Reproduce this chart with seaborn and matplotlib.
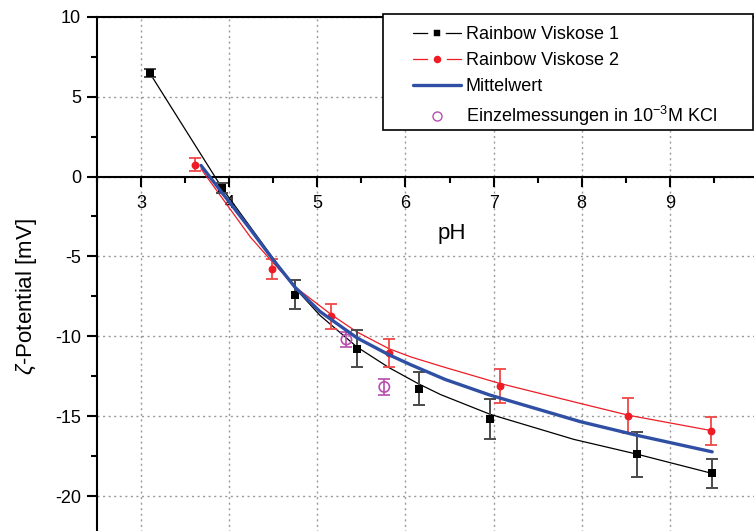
import matplotlib
matplotlib.use("Agg")
import matplotlib.pyplot as plt
import seaborn as sns
from matplotlib.lines import Line2D
from matplotlib.patches import Rectangle
from matplotlib.ticker import MultipleLocator

# ---- measured points (pH, zeta potential in mV, error) ----
ph_v1 = [3.10, 3.92, 4.75, 5.45, 6.15, 6.96, 8.63, 9.48]
zeta_v1 = [6.46, -0.73, -7.40, -10.77, -13.27, -15.17, -17.38, -18.58]
err_v1 = [0.26, 0.30, 0.90, 1.15, 1.05, 1.25, 1.40, 0.90]

ph_v2 = [3.61, 4.49, 5.16, 5.81, 7.07, 8.53, 9.47]
zeta_v2 = [0.75, -5.79, -8.75, -11.04, -13.10, -14.96, -15.90]
err_v2 = [0.42, 0.60, 0.80, 0.90, 1.07, 1.08, 0.88]

ph_single = [5.33, 5.76]
zeta_single = [-10.20, -13.17]
err_single = [0.50, 0.50]

# ---- smoothed curves ----
curve_ph_v1 = [3.10, 3.92, 4.43, 4.75, 5.03, 5.45, 5.81, 6.15, 6.40, 6.96, 7.91, 8.63, 9.48]
curve_zeta_v1 = [6.46, -0.73, -4.60, -7.00, -8.69, -10.67, -11.95, -12.98, -13.65, -14.88, -16.45, -17.38, -18.58]

curve_ph_v2 = [3.68, 4.24, 4.49, 4.75, 5.17, 5.45, 5.81, 6.06, 6.45, 7.07, 7.99, 8.53, 9.47]
curve_zeta_v2 = [0.48, -3.79, -5.35, -6.92, -8.69, -9.73, -10.77, -11.29, -11.95, -12.95, -14.21, -14.94, -15.90]

curve_ph_mean = [3.68, 4.24, 4.49, 4.75, 5.03, 5.45, 5.81, 6.06, 6.45, 6.96, 7.99, 8.63, 9.48]
curve_zeta_mean = [0.69, -3.30, -5.15, -6.95, -8.45, -10.10, -11.15, -11.78, -12.70, -13.68, -15.35, -16.20, -17.23]

x_ticks = [3, 4, 5, 6, 7, 8, 9]
y_ticks = [-20, -15, -10, -5, 0, 5, 10]

labels = ["Rainbow Viskose 1", "Rainbow Viskose 2", "Mittelwert",
          r"Einzelmessungen in 10$^{\mathrm{-3}}$M KCl"]

C_BLACK = "black"
C_RED = "#EE1C25"
C_BLUE = "#2E4FA3"
C_MAG = "#B84DB0"

sns.set_theme(style="white")
plt.rcParams["font.family"] = ["Liberation Sans", "DejaVu Sans"]
plt.rcParams["mathtext.fontset"] = "custom"
plt.rcParams["mathtext.rm"] = "Liberation Sans"
plt.rcParams["mathtext.it"] = "Liberation Sans:italic"
plt.rcParams["axes.unicode_minus"] = False
plt.rcParams["text.color"] = "black"
plt.rcParams["axes.labelcolor"] = "black"

fig = plt.figure(figsize=(7.54, 5.31), dpi=100)
ax = fig.add_axes([97 / 754, 1 - 576 / 531, 661 / 754, 559.3 / 531])

# curves
sns.lineplot(x=curve_ph_v1, y=curve_zeta_v1, sort=False, estimator=None,
             color=C_BLACK, linewidth=0.9, ax=ax, zorder=3)
sns.lineplot(x=curve_ph_v2, y=curve_zeta_v2, sort=False, estimator=None,
             color=C_RED, linewidth=0.9, ax=ax, zorder=3)

# error bars
ax.errorbar(ph_v1, zeta_v1, yerr=err_v1, fmt="none", ecolor="#4a4a4a",
            elinewidth=1.4, capsize=4, capthick=1.4, zorder=3.5)
ax.errorbar(ph_v2, zeta_v2, yerr=err_v2, fmt="none", ecolor="#F04848",
            elinewidth=1.3, capsize=4, capthick=1.3, zorder=3.5)
ax.errorbar(ph_single, zeta_single, yerr=err_single, fmt="none", ecolor=C_MAG,
            elinewidth=1.2, capsize=4, capthick=1.2, zorder=3.5)

# markers
sns.scatterplot(x=ph_v1, y=zeta_v1, marker="s", s=28, color=C_BLACK,
                linewidth=0, ax=ax, zorder=4, legend=False)
sns.scatterplot(x=ph_v2, y=zeta_v2, marker="o", s=32, color=C_RED,
                linewidth=0, ax=ax, zorder=4, legend=False)
sns.scatterplot(x=ph_single, y=zeta_single, marker="o", s=55, facecolor="none",
                edgecolor=C_MAG, linewidth=1.2, ax=ax, zorder=4, legend=False)

sns.lineplot(x=curve_ph_mean, y=curve_zeta_mean, sort=False, estimator=None,
             color=C_BLUE, linewidth=2.4, ax=ax, zorder=4.5)

# axes
ax.set_xlim(2.5, 10)
ax.set_ylim(-25, 10)
ax.set_xticks(x_ticks)
ax.set_yticks(y_ticks)
ax.xaxis.set_minor_locator(MultipleLocator(0.5))
ax.yaxis.set_minor_locator(MultipleLocator(2.5))

ax.spines["bottom"].set_position(("data", 0))
for s in ax.spines.values():
    s.set_color("black")
    s.set_linewidth(1.5)

ax.tick_params(axis="both", which="major", direction="out", length=7.5,
               width=1.5, labelsize=13, color="black", labelcolor="black",
               bottom=True, left=True, top=False, right=False)
ax.tick_params(axis="both", which="minor", direction="out", length=4.5,
               width=1.5, color="black", bottom=True, left=True,
               top=False, right=False)
ax.tick_params(axis="x", which="major", pad=6)
ax.tick_params(axis="y", which="major", pad=4)

ax.grid(True, which="major", color="#9a9a9a", linestyle=(0, (1.5, 2.5)),
        linewidth=1.0)
ax.set_axisbelow(True)

ax.set_ylabel(r"$\zeta$-Potential [mV]", fontsize=16)
ax.yaxis.set_label_coords(-0.0877, 0.5)
ax.set_xlabel("pH", fontsize=16)
ax.xaxis.set_label_coords(0.537, 0.631)

# legend: white-edged markers leave a small gap in the sample line
handles = [
    Line2D([], [], color=C_BLACK, lw=0.9, marker="s", ms=9, mfc=C_BLACK,
           mec="white", mew=4),
    Line2D([], [], color=C_RED, lw=0.9, marker="o", ms=9.5, mfc=C_RED,
           mec="white", mew=4),
    Line2D([], [], color=C_BLUE, lw=2.4),
    Line2D([], [], color=C_MAG, lw=0, marker="o", ms=6.5, mfc="none",
           mec=C_MAG, mew=1.0),
]
box = Rectangle((0.4327, 0.7974), 0.5597, 0.2074, transform=ax.transAxes,
                facecolor="white", edgecolor="black", linewidth=1.2,
                zorder=5.5, clip_on=False)
ax.add_patch(box)
leg = ax.legend(handles, labels, loc="upper left", bbox_to_anchor=(0.4781, 0.9835),
                frameon=False, borderpad=0, borderaxespad=0, handlelength=2.65,
                handletextpad=0.28, labelspacing=0.5, fontsize=13, numpoints=1)
leg.set_zorder(6)

fig.savefig("out.png", dpi=100)
